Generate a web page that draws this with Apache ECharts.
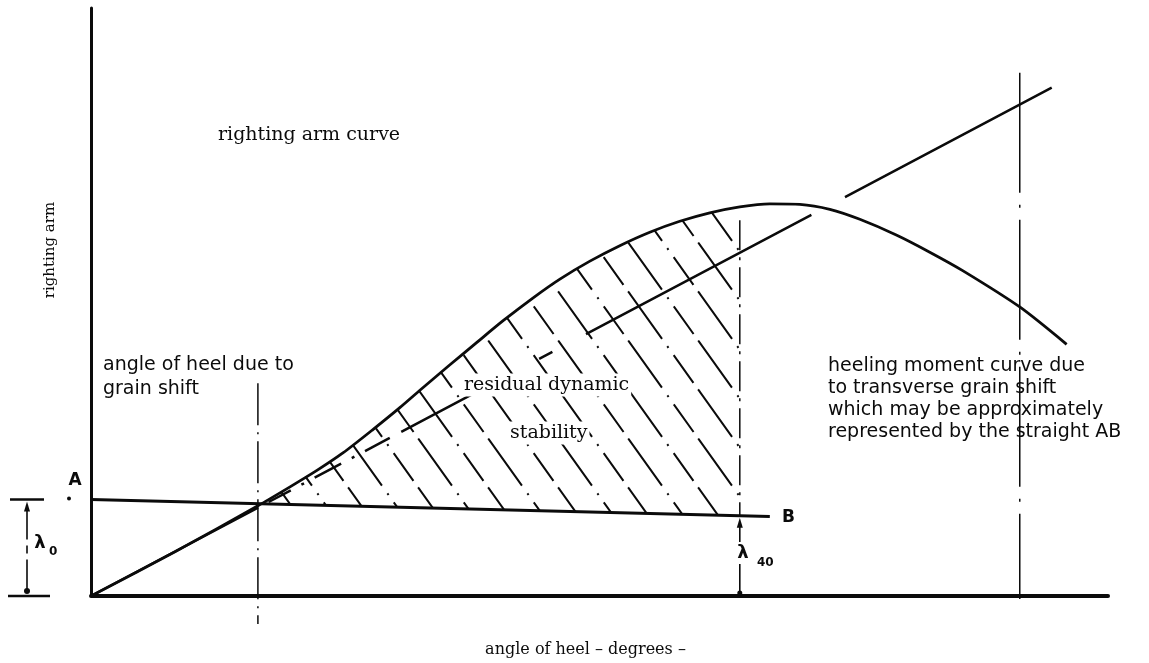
<!DOCTYPE html>
<html>
<head>
<meta charset="utf-8">
<title>righting arm curve</title>
<script src="https://cdn.jsdelivr.net/npm/echarts@6/dist/echarts.min.js"></script>
<style>
html, body { margin: 0; padding: 0; background: #fff; }
#main { width: 1149px; height: 663px; }
</style>
</head>
<body>
<div id="main"></div>
<script>
// righting arm curve (heel angle in degrees, arm in m)
var heelAngle   = [0, 5.18, 10.29, 12.27, 13.93, 15.53, 17.38, 19.04, 20.46, 22.13, 23.79, 25.39, 27.24, 28.91, 30.76, 32.6, 34.45, 36.3, 38.15, 40, 41.85, 43.7, 45.55, 47.4, 49.68, 51.71, 53.74, 57.26, 60.15];
var rightingArm = [0, 0.089, 0.181, 0.219, 0.252, 0.287, 0.334, 0.378, 0.418, 0.464, 0.509, 0.552, 0.598, 0.636, 0.672, 0.703, 0.73, 0.752, 0.769, 0.781, 0.787, 0.786, 0.776, 0.756, 0.724, 0.69, 0.653, 0.58, 0.505];

// straight line from the origin (initial slope)
var tangentAngle = [0, 59.23];
var tangentArm   = [0, 1.02];

// heeling arm line AB
var abAngle = [0, 41.85];
var abArm   = [0.1937, 0.1597];

// marked angles
var grainShiftAngle = 10.29;
var angle40 = 40;
var farAngle = 57.26;

var INK = '#0b0b0b';

function abAt(x) {
    return abArm[0] + (abArm[1] - abArm[0]) * (x - abAngle[0]) / (abAngle[1] - abAngle[0]);
}
function pairs(xs, ys) {
    return xs.map(function (x, i) { return [x, ys[i]]; });
}

// hatch polygon: between the curve and AB, from the grain shift angle to 40 deg
var hatchPts = [];
heelAngle.forEach(function (a, i) {
    if (a >= grainShiftAngle && a <= angle40) hatchPts.push([a, rightingArm[i]]);
});
hatchPts.push([angle40, abAt(angle40)]);
hatchPts.push([grainShiftAngle, abAt(grainShiftAngle)]);

// dashed "\" hatching as a repeating pattern
var tile = document.createElement('canvas');
tile.width = 70; tile.height = 98;
var tc = tile.getContext('2d');
tc.strokeStyle = INK;
tc.lineWidth = 2;
tc.setLineDash([56, 9, 2, 9, 34, 8, 2, 0]);
for (var k = -3; k <= 3; k++) {
    tc.lineDashOffset = (k % 2 === 0) ? 0 : 60;
    tc.beginPath();
    tc.moveTo(35 * k - 140, -196);
    tc.lineTo(35 * k + 140, 196);
    tc.stroke();
}
var hatchFill = { image: tile, repeat: 'repeat' };

function vline(x, y0, y1, dash, width) {
    return {
        type: 'line', data: [[x, y0], [x, y1]], showSymbol: false, clip: false, silent: true,
        lineStyle: { color: INK, width: width || 1.5, type: dash }, z: 2
    };
}

var serif = '"DejaVu Serif", serif';
var sans = '"DejaVu Sans", sans-serif';

function txt(x, y, s, font, size, extra) {
    extra = extra || {};
    var st = { text: s, x: x, y: y, fill: INK, font: (extra.weight || 'normal') + ' ' + size + 'px ' + font,
               textVerticalAlign: 'middle', textAlign: extra.align || 'left' };
    if (extra.bg) { st.backgroundColor = '#fff'; st.padding = [2, 2]; }
    var el = { type: 'text', style: st, z: 100 };
    if (extra.rotation) { el.rotation = extra.rotation; el.x = x; el.y = y; st.x = 0; st.y = 0; }
    return el;
}

var chart = echarts.init(document.getElementById('main'));
chart.setOption({
    animation: false,
    backgroundColor: '#fff',
    grid: { left: 91, top: 8, width: 1017, height: 591 },
    xAxis: {
        type: 'value', min: 0, max: 62.7,
        axisLine: { lineStyle: { color: INK, width: 4 } },
        axisTick: { show: false }, axisLabel: { show: false }, splitLine: { show: false },
        name: 'angle of heel \u2013 degrees \u2013', nameLocation: 'middle', nameGap: 46,
        nameTextStyle: { color: INK, fontFamily: serif, fontSize: 16, padding: [0, 28, 0, 0] }
    },
    yAxis: {
        type: 'value', min: 0, max: 1.18,
        axisLine: { lineStyle: { color: INK, width: 3 } },
        axisTick: { show: false }, axisLabel: { show: false }, splitLine: { show: false }
    },
    series: [
        {
            type: 'custom', coordinateSystem: 'cartesian2d', silent: true, z: 1,
            data: [[grainShiftAngle, 0]],
            renderItem: function (params, api) {
                return {
                    type: 'polygon',
                    shape: { points: hatchPts.map(function (p) { return api.coord(p); }) },
                    style: { fill: hatchFill, stroke: null }
                };
            }
        },
        {
            name: 'righting arm curve', type: 'line', data: pairs(heelAngle, rightingArm),
            smooth: 0.25, showSymbol: false, z: 4,
            lineStyle: { color: INK, width: 2.8 }
        },
        {
            type: 'line', data: pairs(tangentAngle, tangentArm), showSymbol: false, z: 3,
            lineStyle: { color: INK, width: 2.5,
                type: [189, 12, 25, 12, 3, 12, 30, 12, 3, 12, 28, 13, 79, 77, 15, 38, 255, 38, 240, 10] }
        },
        {
            name: 'AB', type: 'line', data: pairs(abAngle, abArm), showSymbol: false, z: 4,
            lineStyle: { color: INK, width: 3 }
        },
        vline(grainShiftAngle, 0.427, -0.056, [42, 7, 2, 7]),
        vline(angle40, 0.754, abAt(angle40), [30, 7, 3, 7]),
        vline(farAngle, 1.05, -0.006, [120, 12, 3, 12]),
        // lambda 40 dimension
        {
            type: 'line', clip: false, silent: true, z: 3,
            data: [
                { value: [angle40, abAt(angle40) - 0.014], symbol: 'triangle', symbolSize: [6, 10] },
                { value: [angle40, 0.006], symbol: 'circle', symbolSize: 5 }
            ],
            itemStyle: { color: INK }, lineStyle: { color: INK, width: 1.6 }
        }
    ]
});

// labels; the lambda 0 dimension left of the axis is placed from the axis scale
var pA = chart.convertToPixel({ gridIndex: 0 }, [0, abArm[0]]);
var pO = chart.convertToPixel({ gridIndex: 0 }, [0, 0]);
var dx = pA[0] - 64;
var lineSt = { stroke: INK, lineWidth: 2.5 };
chart.setOption({
    graphic: [
        txt(50, 250, 'righting arm', serif, 15, { rotation: Math.PI / 2, align: 'center' }),
        txt(218, 135, 'righting arm curve', serif, 19),
        txt(103, 365, 'angle of heel due to', sans, 19),
        txt(103, 389, 'grain shift', sans, 19),
        txt(462, 385, 'residual dynamic', serif, 19, { bg: true }),
        txt(508, 433, 'stability', serif, 19, { bg: true }),
        txt(828, 366, 'heeling moment curve due', sans, 19),
        txt(828, 388, 'to transverse grain shift', sans, 19),
        txt(828, 410, 'which may be approximately', sans, 19),
        txt(828, 432, 'represented by the straight AB', sans, 19),
        txt(782, 518, 'B', sans, 17, { weight: 'bold' }),
        txt(743, 553, '\u03bb', sans, 18, { align: 'center', bg: true, weight: 'bold' }),
        txt(757, 563, '40', sans, 12, { weight: 'bold' }),
        { type: 'line', shape: { x1: pA[0] - 81, y1: pA[1], x2: pA[0] - 47, y2: pA[1] }, style: lineSt },
        { type: 'line', shape: { x1: pO[0] - 83, y1: pO[1], x2: pO[0] - 41, y2: pO[1] }, style: lineSt },
        { type: 'line', shape: { x1: dx, y1: pA[1] + 6, x2: dx, y2: pO[1] - 4 }, style: { stroke: INK, lineWidth: 1.6, lineDash: [34, 6, 8, 6] } },
        { type: 'polygon', shape: { points: [[dx, pA[1] + 2], [dx - 3, pA[1] + 12], [dx + 3, pA[1] + 12]] }, style: { fill: INK } },
        { type: 'circle', shape: { cx: dx, cy: pO[1] - 5, r: 3 }, style: { fill: INK } },
        txt(dx + 13, pA[1] + 44, '\u03bb', sans, 18, { align: 'center', bg: true, weight: 'bold' }),
        txt(dx + 22, pA[1] + 52, '0', sans, 12, { weight: 'bold' }),
        txt(pA[0] - 16, pA[1] - 19, 'A', sans, 17, { weight: 'bold', align: 'center' }),
        { type: 'circle', shape: { cx: pA[0] - 22, cy: pA[1] - 1, r: 2 }, style: { fill: INK } }
    ]
});
</script>
</body>
</html>
